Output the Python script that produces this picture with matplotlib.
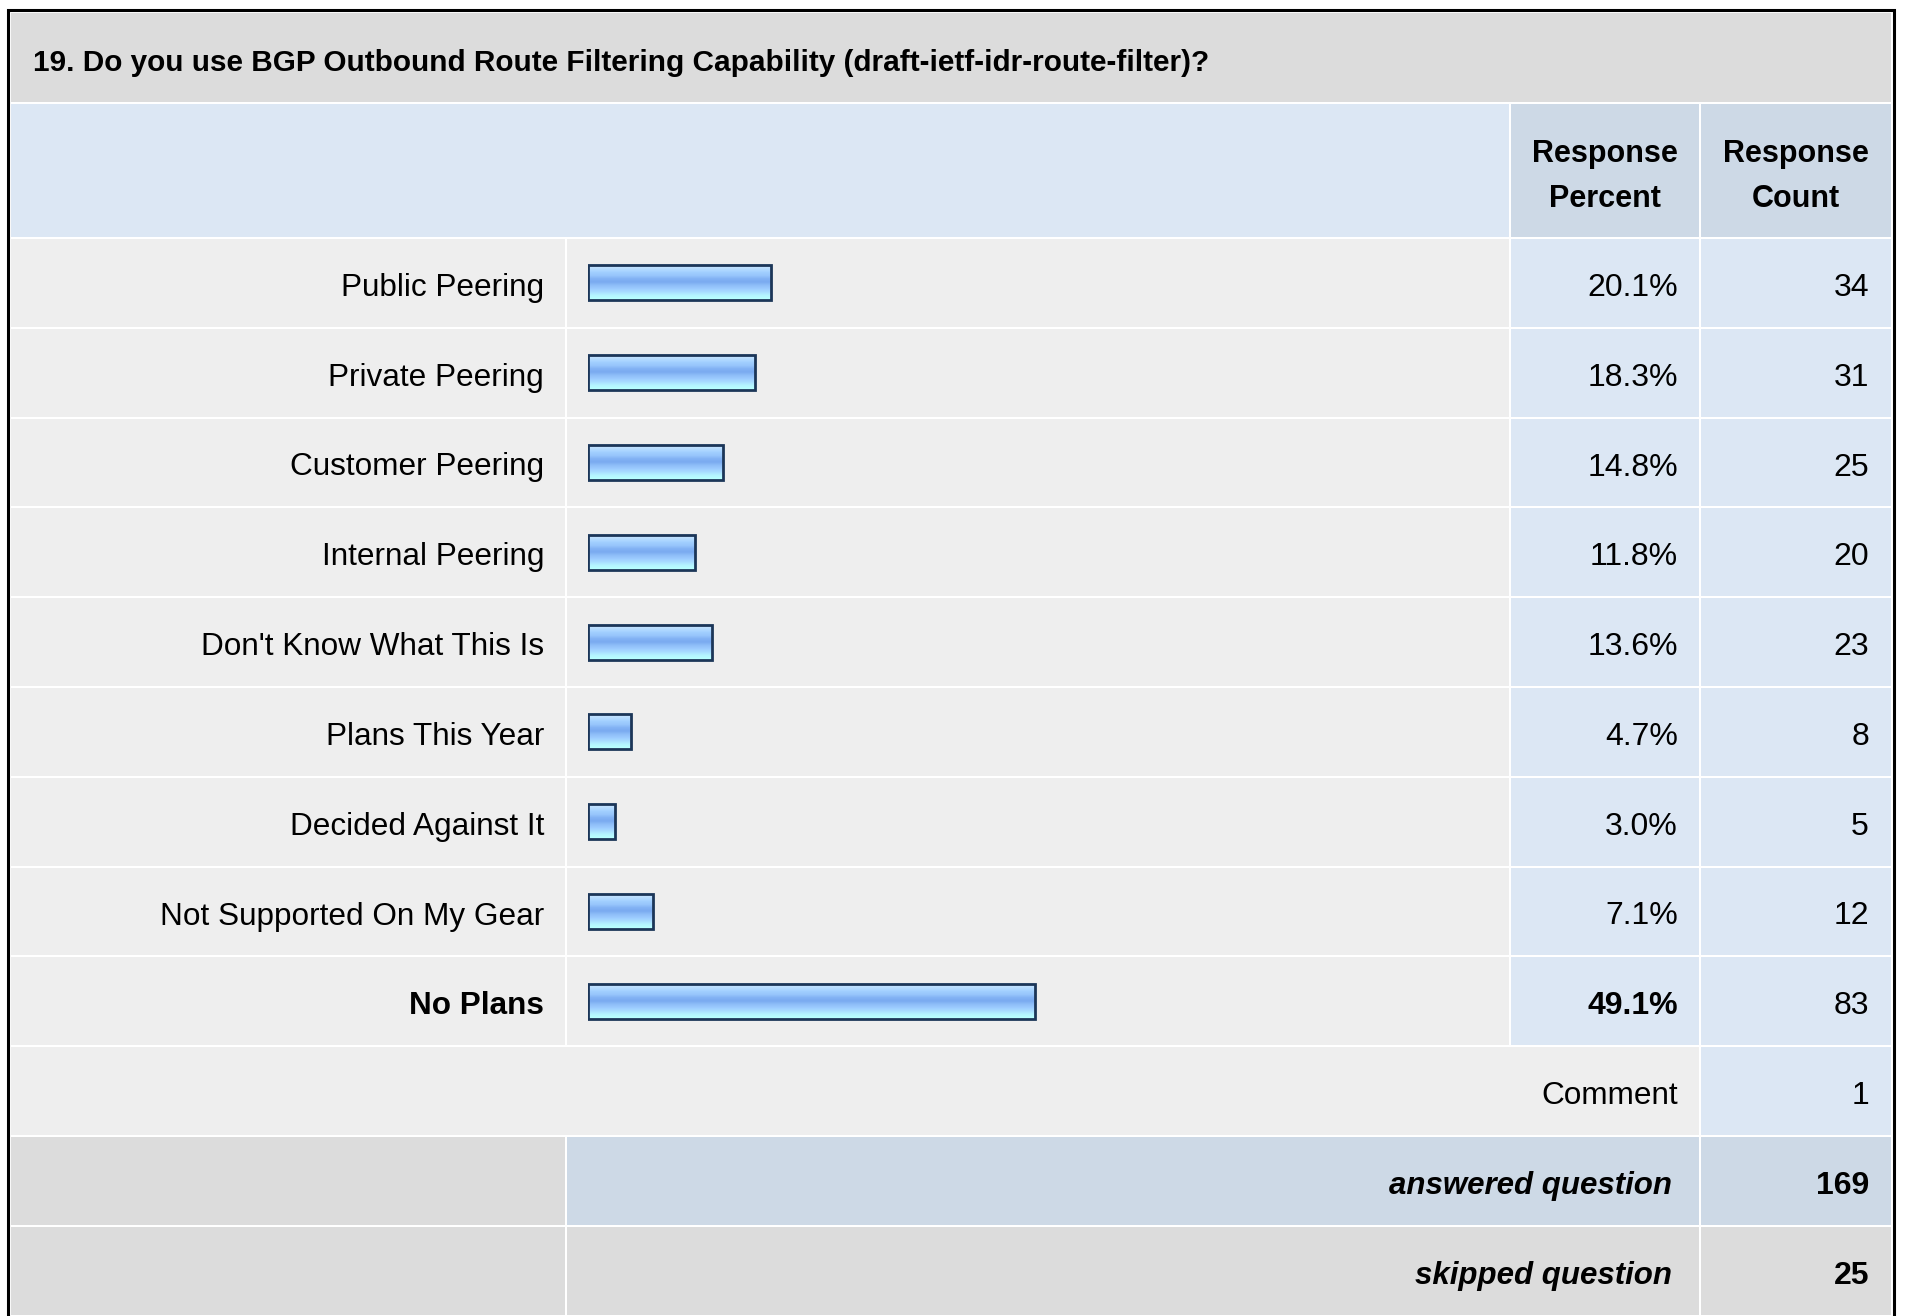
import numpy as np
import matplotlib.pyplot as plt
from matplotlib.patches import Rectangle
from matplotlib.colors import to_rgb

title = '19. Do you use BGP Outbound Route Filtering Capability (draft-ietf-idr-route-filter)?'
labels = ['Public Peering', 'Private Peering', 'Customer Peering', 'Internal Peering',
          "Don't Know What This Is", 'Plans This Year', 'Decided Against It',
          'Not Supported On My Gear', 'No Plans']
percents = [20.1, 18.3, 14.8, 11.8, 13.6, 4.7, 3.0, 7.1, 49.1]
counts = [34, 31, 25, 20, 23, 8, 5, 12, 83]
comment_count = 1
answered = 169
skipped = 25

plt.rcParams['font.family'] = ['Liberation Sans', 'DejaVu Sans']

W, H = 1907, 1316
GREY = '#dcdcdc'
ROW = '#eeeeee'
BLUE = '#dce7f4'
BLUE2 = '#cdd9e6'
FS_LAB = 22.7
FS_NUM = 23
FS_HEAD = 22
DY = 5  # text baseline nudge, px

fig = plt.figure(figsize=(W / 100, H / 100), dpi=100)
ax = fig.add_axes([0, 0, 1, 1])
ax.set_xlim(0, W)
ax.set_ylim(H, 0)
ax.axis('off')

# table grid (pixel units)
cols = [10, 566, 1510, 1700, 1892]
top_title, top_head, top_rows = 12, 103, 238
rh = 89.8
n = len(labels)


def cell(x0, x1, y0, y1, color):
    ax.add_patch(Rectangle((x0 + 1, y0 + 1), x1 - x0 - 2, y1 - y0 - 2,
                           facecolor=color, edgecolor='none'))


def row_top(i):
    return top_rows + i * rh


# outer frame
ax.add_patch(Rectangle((7.5, 10), 1886, H, facecolor='white',
                       edgecolor='black', lw=2.2))

cell(cols[0], cols[4], top_title, top_head, GREY)
ax.text(33, 63, title, fontsize=21.4, fontweight='bold', va='center', ha='left')

cell(cols[0], cols[2], top_head, top_rows, BLUE)
cell(cols[2], cols[3], top_head, top_rows, BLUE2)
cell(cols[3], cols[4], top_head, top_rows, BLUE2)
for c, txt in [(2, 'Percent'), (3, 'Count')]:
    xc = (cols[c] + cols[c + 1]) / 2
    ax.text(xc, 151 + 3, 'Response', fontsize=FS_HEAD, fontweight='bold', ha='center', va='center')
    ax.text(xc, 196 + 3, txt, fontsize=FS_HEAD, fontweight='bold', ha='center', va='center')

top_i = int(np.argmax(percents))
for i in range(n):
    y0, y1 = row_top(i), row_top(i + 1)
    yc = (y0 + y1) / 2 + DY
    cell(cols[0], cols[1], y0, y1, ROW)
    cell(cols[1], cols[2], y0, y1, ROW)
    cell(cols[2], cols[3], y0, y1, BLUE)
    cell(cols[3], cols[4], y0, y1, BLUE)
    wt = 'bold' if i == top_i else 'normal'
    ax.text(544, yc, labels[i], fontsize=FS_LAB, fontweight=wt, ha='right', va='center')
    ax.text(1678, yc, f'{percents[i]:.1f}%', fontsize=FS_NUM, fontweight=wt,
            ha='right', va='center')
    ax.text(1869, yc, str(counts[i]), fontsize=FS_NUM, ha='right', va='center')

# comment row
y0, y1 = row_top(n), row_top(n + 1)
cell(cols[0], cols[3], y0, y1, ROW)
cell(cols[3], cols[4], y0, y1, BLUE)
ax.text(1678, (y0 + y1) / 2 + DY, 'Comment', fontsize=FS_LAB, ha='right', va='center')
ax.text(1869, (y0 + y1) / 2 + DY, str(comment_count), fontsize=FS_NUM, ha='right', va='center')

# summary rows
for k, (txt, val, mid) in enumerate([('answered question', answered, BLUE2),
                                     ('skipped question', skipped, GREY)]):
    y0, y1 = row_top(n + 1 + k), row_top(n + 2 + k)
    yc = (y0 + y1) / 2 + DY
    cell(cols[0], cols[1], y0, y1, GREY)
    cell(cols[1], cols[3], y0, y1, mid)
    cell(cols[3], cols[4], y0, y1, mid)
    ax.text(1672, yc, txt, fontsize=22.5, fontweight='bold', style='italic',
            ha='right', va='center')
    ax.text(1869, yc, str(val), fontsize=FS_NUM, fontweight='bold',
            ha='right', va='center')

# bars: percent axis laid over the bar column, 100% = 910 px
bx0, bw = 588, 910
bx = fig.add_axes([bx0 / W, 1 - row_top(n) / H, bw / W, (row_top(n) - top_rows) / H])
bx.set_xlim(0, 100)
bx.set_ylim(n - 0.5, -0.5)
bx.axis('off')
bx.patch.set_visible(False)

stops = ['#cce6ff', '#b6dcff', '#a2d0ff', '#98c6fc', '#82b2f4', '#7aaaf0',
         '#8ebef8', '#9ccbff', '#a8dcff', '#b4f4ff', '#b8ffff']
grad = np.array([to_rgb(c) for c in stops])[:, None, :]
bh = 0.39
for i, v in enumerate(percents):
    bx.imshow(grad, extent=(0, v, i + bh / 2, i - bh / 2), aspect='auto',
              interpolation='bilinear', zorder=1)
bx.barh(range(n), percents, height=bh, left=0, facecolor='none',
        edgecolor='#1c3658', linewidth=2.0, zorder=2)
bx.set_xlim(0, 100)
bx.set_ylim(n - 0.5, -0.5)

fig.savefig('out.png', dpi=100, facecolor='white')
